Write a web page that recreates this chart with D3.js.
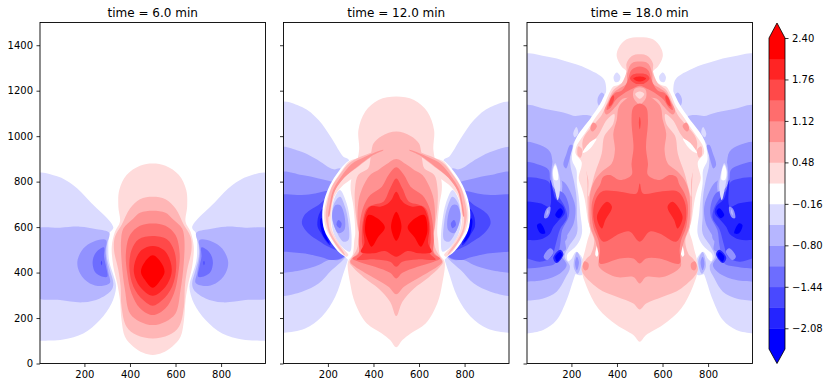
<!DOCTYPE html>
<html><head><meta charset="utf-8">
<script src="https://cdn.jsdelivr.net/npm/d3@7"></script>
<style>html,body{margin:0;padding:0;background:#fff}svg{display:block}text{font-family:"DejaVu Sans",sans-serif;fill:#000}</style>
</head><body><svg id="c" width="830" height="389"></svg>
<script>
const titles=["time = 6.0 min","time = 12.0 min","time = 18.0 min"];
const levels=d3.range(16).map(i=>+(-2.4+0.32*i).toFixed(2));
const xTicks=[200,400,600,800];
const yTicks=[0,200,400,600,800,1000,1200,1400];
const cbTicks=[-2.08,-1.44,-0.8,-0.16,0.48,1.12,1.76,2.4];
// Contour traces: [band value, outline of the left half in data units (x, height)]
const panel1=[
[-0.32,[[-20,830],[80,824],[150,785],[225,712],[327,599],[310,572],[305,499],[309,448],[327,389],[339,338],[319,264],[268,191],[195,132],[107,106],[8,100],[-20,98]]],
[-0.64,[[-20,585],[93,597],[180,602],[254,591],[309,575],[298,520],[298,470],[312,411],[327,352],[319,323],[268,286],[195,269],[93,279],[-20,298]]],
[-0.96,[[295,543],[239,536],[195,506],[169,448],[181,396],[224,352],[276,341],[312,355],[306,396],[298,440],[292,492]]],
[-1.28,[[286,511],[261,499],[242,473],[236,440],[246,404],[271,385],[300,382],[295,426],[286,470]]],
[-1.6,[[275,452],[272,443],[275,432],[278,442]]],
[0.32,[[500,880],[444,870],[385,829],[353,763],[349,690],[356,624],[334,580],[320,514],[327,426],[344,352],[356,279],[363,191],[378,118],[415,74],[458,47],[500,37]]],
[0.64,[[500,734],[444,723],[400,682],[363,609],[334,558],[330,499],[349,411],[359,338],[363,250],[385,162],[429,125],[500,110]]],
[0.96,[[500,672],[444,663],[415,638],[371,594],[361,543],[364,440],[378,323],[400,220],[444,184],[500,169]]],
[1.28,[[500,616],[444,606],[400,565],[382,484],[388,396],[407,308],[444,243],[500,213]]],
[1.6,[[500,561],[437,546],[407,499],[397,426],[415,338],[458,279],[500,254]]],
[1.92,[[500,517],[451,499],[422,448],[418,396],[444,338],[500,298]]],
[2.24,[[500,476],[466,448],[448,404],[466,367],[500,333]]]
];
const panel2=[
[-0.32,[[-20,1143],[86,1128],[159,1071],[217,990],[268,910],[290,898],[300,800],[300,500],[288,458],[268,396],[232,294],[173,206],[100,154],[8,135],[-20,133]]],
[-0.64,[[-20,945],[71,936],[144,902],[225,854],[254,858],[300,800],[300,500],[268,458],[217,411],[159,352],[86,316],[8,297],[-20,295]]],
[-0.96,[[-20,835],[86,829],[159,814],[217,800],[280,780],[280,480],[246,455],[203,455],[159,433],[86,411],[8,399],[-20,398]]],
[-1.28,[[-20,733],[86,741],[144,748],[200,760],[280,760],[280,480],[217,455],[173,467],[100,484],[8,492],[-20,494]]],
[-1.6,[[122,675],[159,697],[190,720],[260,700],[260,500],[203,514],[159,540],[115,572],[86,616],[95,650]]],
[-1.92,[[156,640],[165,665],[176,680],[200,600],[210,520],[190,540],[172,570],[155,600]]],
[-2.24,[[166,630],[172,640],[190,570],[205,530],[180,560],[170,590]]],
[0,[[500,850],[340,900],[297,895],[246,844],[209,785],[184,719],[175,653],[184,587],[216,529],[253,485],[275,470],[300,450],[500,450]]],
[-0.32,[[253,763],[282,705],[297,631],[304,543],[297,492],[268,507],[231,558],[216,617],[219,690],[231,734]]],
[-0.64,[[253,734],[275,690],[290,617],[290,543],[268,536],[231,595],[219,639],[228,705]]],
[-0.96,[[234,697],[253,697],[272,653],[272,587],[246,573],[224,617],[219,661]]],
[-1.28,[[246,631],[260,617],[253,595],[238,609]]],
[0.32,[[500,1174],[422,1159],[364,1108],[334,1027],[337,939],[320,860],[302,807],[300,763],[312,690],[320,573],[316,543],[308,477],[288,448],[298,352],[320,264],[371,176],[437,132],[473,103],[500,71]]],
[0.32,[[297,892],[253,837],[216,778],[192,712],[183,653],[192,595],[224,536],[260,485],[282,470],[290,477],[260,514],[224,573],[213,617],[216,675],[228,734],[260,778],[297,807],[360,850],[340,900]]],
[0.64,[[443,942],[363,917],[297,884],[253,832],[216,774],[197,705],[190,653],[196,609],[209,565],[246,507],[275,477],[268,492],[231,543],[209,587],[202,631],[209,690],[224,749],[268,815],[333,866],[392,910],[443,936]]],
[0.64,[[500,1020],[437,1001],[400,968],[392,939],[386,895],[377,859],[333,829],[319,771],[319,690],[330,602],[336,558],[326,500],[295,445],[308,426],[364,374],[422,330],[473,272],[500,209]]],
[0.96,[[443,940],[363,910],[304,878],[260,825],[224,766],[209,705],[202,646],[205,646],[216,705],[231,760],[272,818],[333,869],[392,913],[443,938]]],
[0.96,[[500,900],[455,875],[420,850],[385,829],[348,763],[333,705],[332,602],[348,529],[335,490],[298,448],[320,426],[393,382],[466,338],[500,305]]],
[1.28,[[500,863],[466,829],[437,778],[386,741],[356,690],[342,631],[335,543],[335,484],[308,462],[335,448],[407,426],[473,399],[500,374]]],
[1.6,[[500,814],[473,770],[444,712],[407,700],[371,682],[352,616],[349,543],[352,484],[327,458],[407,458],[473,448],[500,426]]],
[1.92,[[500,756],[478,719],[458,700],[429,690],[385,690],[363,650],[355,590],[360,529],[345,490],[400,485],[451,495],[500,470]]],
[2.24,[[500,668],[477,602],[500,540]]],
[2.24,[[377,653],[415,640],[450,599],[420,555],[392,514],[372,550],[363,587]]]
];
const panel3=[
[-0.32,[[-20,1352],[91,1350],[179,1328],[267,1298],[340,1254],[352,1218],[340,1100],[280,900],[270,600],[238,440],[216,389],[179,279],[135,191],[76,147],[4,132],[-20,130]]],
[-0.32,[[399,1280],[415,1262],[408,1240],[392,1238],[385,1260]]],
[-0.64,[[-20,1128],[91,1118],[179,1100],[216,1089],[252,1093],[289,1086],[250,1030],[205,960],[195,880],[210,807],[222,734],[224,646],[224,572],[188,514],[170,470],[194,426],[172,374],[135,316],[76,286],[4,276],[-20,275]]],
[-0.64,[[333,1192],[350,1170],[340,1135],[320,1135],[315,1165]]],
[-0.32,[[222,1040],[230,1015],[215,995],[208,1010]]],
[-0.96,[[-20,967],[62,961],[106,932],[118,880],[125,840],[150,810],[173,793],[195,756],[217,690],[210,617],[173,543],[175,500],[151,485],[179,433],[150,396],[76,367],[4,360],[-20,358]]],
[-0.64,[[121,890],[150,830],[160,780],[145,715],[125,745],[112,830]]],
[-0.96,[[205,961],[194,910],[176,858],[165,873],[179,925],[194,961]]],
[-1.28,[[-20,880],[62,873],[100,851],[107,807],[125,770],[166,749],[188,697],[188,646],[159,587],[150,520],[128,440],[76,426],[4,418],[-20,418]]],
[-1.6,[[-20,807],[70,812],[100,800],[115,770],[150,725],[175,680],[180,640],[150,590],[130,520],[113,470],[62,448],[4,462],[-20,462]]],
[-1.92,[[-20,705],[62,705],[105,690],[107,807],[113,790],[130,725],[165,690],[170,660],[140,625],[120,600],[105,570],[62,545],[4,543],[-20,543]]],
[-2.24,[[129,653],[151,683],[163,668],[144,639]]],
[-2.24,[[49,609],[64,617],[85,573],[64,573]]],
[-1.92,[[120,465],[151,500],[165,480],[135,442]]],
[-2.24,[[129,470],[151,492],[159,477],[137,448]]],
[-0.96,[[81,640],[90,680],[107,690],[105,660],[93,640]]],
[-0.64,[[90,650],[96,678],[100,665]]],
[-0.96,[[172,575],[182,558],[172,540],[162,558]]],
[-0.96,[[78,470],[107,507],[122,492],[93,455]]],
[-0.32,[[129,881],[144,837],[151,778],[140,719],[125,778],[116,844]]],
[0,[[129,873],[140,844],[140,807],[126,807],[119,844]]],
[0,[[500,1100],[375,1232],[350,1190],[325,1140],[285,1080],[250,1035],[225,1000],[210,960],[203,895],[222,851],[224,792],[232,734],[239,661],[246,572],[224,521],[181,477],[186,450],[215,470],[262,440],[262,380],[500,200]]],
[-0.32,[[195,411],[221,492],[251,455],[246,389]]],
[-0.64,[[210,425],[224,490],[243,450],[228,395]]],
[-0.96,[[216,440],[224,470],[233,445],[224,410]]],
[0.32,[[500,1435],[442,1426],[406,1386],[399,1350],[420,1306],[442,1284],[435,1247],[406,1225],[384,1218],[362,1181],[340,1130],[303,1078],[274,1034],[240,985],[222,955],[218,925],[245,885],[232,815],[246,770],[258,725],[265,680],[272,630],[283,587],[270,540],[258,490],[250,460],[245,410],[267,338],[318,242],[399,169],[472,125],[500,96]]],
[0.64,[[500,1360],[464,1352],[442,1320],[442,1284],[420,1232],[384,1203],[362,1159],[333,1093],[303,1056],[260,1005],[248,970],[262,880],[270,800],[271,690],[280,600],[300,540],[285,480],[265,460],[245,411],[318,330],[399,294],[472,264],[500,238]]],
[0.32,[[388,1097],[355,1071],[318,1005],[274,954],[252,924],[260,866],[274,807],[274,734],[303,836],[333,924],[340,983],[347,1005],[384,1056]]],
[0,[[310,990],[278,970],[248,925],[262,930],[290,955]]],
[0.96,[[296,1060],[312,1045],[292,1020],[283,1035]]],
[0.64,[[230,955],[248,940],[240,905],[228,915]]],
[0,[[305,477],[317,529],[324,499],[312,470]]],
[0.96,[[258,450],[275,440],[272,415],[258,410],[250,430]]],
[0.96,[[500,1190],[413,1137],[399,1071],[384,1012],[391,939],[377,880],[333,844],[303,807],[284,756],[279,690],[284,602],[304,543],[321,470],[321,426],[399,380],[472,380],[500,352]]],
[0.96,[[500,1328],[464,1320],[445,1276],[442,1232],[413,1212],[384,1190],[362,1150],[345,1110],[355,1095],[395,1130],[425,1165],[470,1170],[500,1175]]],
[0.64,[[500,1215],[475,1205],[472,1170],[490,1145],[500,1137]]],
[0.32,[[500,1196],[480,1185],[500,1164]]],
[1.28,[[500,1144],[472,1127],[464,1071],[472,968],[472,939],[464,880],[464,829],[413,807],[369,829],[340,822],[325,785],[303,748],[289,697],[296,602],[318,543],[325,499],[325,440],[413,462],[472,462],[500,440]]],
[1.28,[[500,1306],[464,1291],[450,1254],[442,1232],[420,1200],[391,1190],[369,1159],[355,1115],[372,1125],[395,1160],[430,1188],[470,1210],[500,1222]]],
[1.6,[[500,1276],[472,1272],[457,1254],[480,1232],[500,1229]]],
[1.6,[[384,1180],[372,1165],[365,1130],[378,1140],[388,1170]]],
[1.92,[[500,1262],[472,1254],[500,1240]]],
[1.6,[[500,1085],[496,1060],[500,1030]]],
[1.6,[[500,792],[486,748],[413,756],[333,756],[303,712],[296,646],[311,587],[340,536],[413,572],[457,580],[500,536]]],
[1.92,[[312,646],[356,712],[378,690],[349,631],[334,594]]]
];
const panels=[panel1,panel2,panel3];

const svg=d3.select("#c");
const panelLeft=[40,283.5,527],panelW=225.5,plotTop=22.5,plotBottom=363.5;
const bwr=d3.scaleLinear().domain([0,0.5,1]).range(["#0000ff","#ffffff","#ff0000"]);
const bandColor=d3.scaleQuantize().domain([-2.4,2.4]).range(d3.range(15).map(i=>bwr(i/14)));
const y=d3.scaleLinear().domain([0,1500]).range([plotBottom,plotTop]);
const outline=d3.line().curve(d3.curveCatmullRomClosed.alpha(0.5));
const defs=svg.append("defs");

panels.forEach((traces,k)=>{
  const x=d3.scaleLinear().domain([5,995]).range([panelLeft[k],panelLeft[k]+panelW]);
  defs.append("clipPath").attr("id","clip"+k).append("rect").attr("x",panelLeft[k]).attr("y",plotTop).attr("width",panelW).attr("height",plotBottom-plotTop);
  const g=svg.append("g").attr("clip-path",`url(#clip${k})`);
  const draw=(pts,v)=>g.append("path").attr("d",outline(pts.map(p=>[x(p[0]),y(p[1])]))).attr("fill",bandColor(v));
  traces.forEach(([v,half])=>{
    const mirror=half.map(p=>[1000-p[0],p[1]]);
    if(half[0][0]===500&&half[half.length-1][0]===500){
      draw(half.concat(mirror.slice(1,-1).reverse()),v);
    }else{draw(half,v);draw(mirror,v);}
  });
  const ax=svg.append("g").attr("transform",`translate(0,${plotBottom})`).call(d3.axisBottom(x).tickValues(xTicks).tickSize(3.5).tickPadding(3.5));
  const ay=svg.append("g").attr("transform",`translate(${panelLeft[k]},0)`).call(d3.axisLeft(y).tickValues(yTicks).tickSize(3.5).tickPadding(3.5).tickFormat(k===0?d3.format("d"):""));
  [ax,ay].forEach(a=>{a.select(".domain").remove();a.selectAll("line").attr("stroke","#000").attr("stroke-width",0.8);a.selectAll("text").attr("font-size",10).attr("font-family","DejaVu Sans");});
  svg.append("rect").attr("x",panelLeft[k]).attr("y",plotTop).attr("width",panelW).attr("height",plotBottom-plotTop).attr("fill","none").attr("stroke","#000").attr("stroke-width",0.9);
  svg.append("text").attr("x",panelLeft[k]+panelW/2).attr("y",17).attr("text-anchor","middle").attr("font-size",12).text(titles[k]);
});

// colour bar
const cbL=769,cbR=785,cbTop=38,cbBot=349,tipTop=23,tipBot=363.5;
const cy=d3.scaleLinear().domain([-2.4,2.4]).range([cbBot,cbTop]);
svg.append("g").selectAll("rect").data(d3.pairs(levels)).join("rect")
 .attr("x",cbL).attr("width",cbR-cbL).attr("y",d=>cy(d[1])).attr("height",d=>cy(d[0])-cy(d[1])+0.4)
 .attr("fill",d=>bandColor((d[0]+d[1])/2));
svg.append("path").attr("d",`M${cbL},${cbTop}L${(cbL+cbR)/2},${tipTop}L${cbR},${cbTop}Z`).attr("fill","#ff0000");
svg.append("path").attr("d",`M${cbL},${cbBot}L${(cbL+cbR)/2},${tipBot}L${cbR},${cbBot}Z`).attr("fill","#0000ff");
svg.append("path").attr("d",`M${cbL},${cbTop}L${(cbL+cbR)/2},${tipTop}L${cbR},${cbTop}L${cbR},${cbBot}L${(cbL+cbR)/2},${tipBot}L${cbL},${cbBot}Z`).attr("fill","none").attr("stroke","#000").attr("stroke-width",0.8);
const cax=svg.append("g").attr("transform",`translate(${cbR},0)`).call(d3.axisRight(cy).tickValues(cbTicks).tickSize(3.5).tickPadding(3.5).tickFormat(d3.format(".2f")));
cax.select(".domain").remove();cax.selectAll("line").attr("stroke","#000").attr("stroke-width",0.8);cax.selectAll("text").attr("font-size",10).attr("font-family","DejaVu Sans");
</script></body></html>
